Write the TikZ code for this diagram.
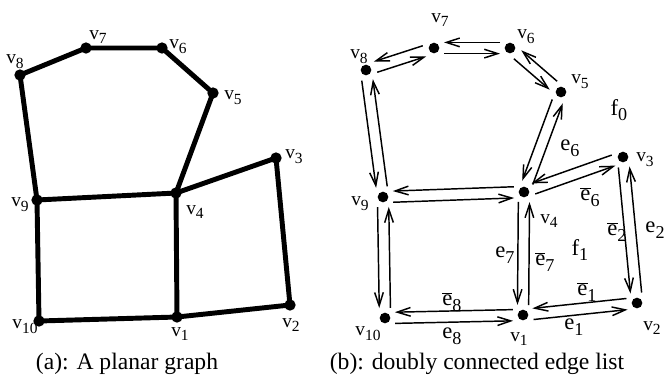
\documentclass[tikz,border=0pt]{standalone}
\usepackage{fontspec}
\setmainfont{Liberation Serif}
\usetikzlibrary{arrows.meta,calc}

\tikzset{every picture/.style={line width=0.75pt}}
\tikzset{
  bigdot/.style={circle,fill=black,inner sep=0pt,minimum size=8.5pt},
  smalldot/.style={circle,fill=black,inner sep=0pt,minimum size=8pt},
  thickedge/.style={line width=3.7pt,line join=round,line cap=round},
  half/.style={line width=1.1pt,-{Straight Barb[length=10pt,width=6.5pt]}},
  vlab/.style={inner sep=0pt,font=\fontsize{14.5}{17}\selectfont},
  elab/.style={inner sep=0pt,font=\fontsize{17}{20}\selectfont},
  caption/.style={inner sep=0pt,font=\fontsize{17.7}{21}\selectfont}
}
\newcommand{\subx}[1]{\raisebox{-0.55ex}{\scalebox{0.8}{#1}}}
\newcommand{\vname}[1]{v\subx{#1}}
\newcommand{\ename}[1]{e\subx{#1}}
\newcommand{\ebar}[1]{$\overline{\mathrm{e}}$\subx{#1}}
\newcommand{\fname}[1]{f\subx{#1}}

\begin{document}
\begin{tikzpicture}[x=0.75pt,y=0.75pt,yscale=-1,xscale=1]
      \useasboundingbox (0,0) rectangle (665,380);

      %Shape: vertices of the planar graph
      \node [bigdot] (a1) at (177,317) {};
      \node [bigdot] (a2) at (290,305) {};
      \node [bigdot] (a3) at (276,158) {};
      \node [bigdot] (a4) at (176,193) {};
      \node [bigdot] (a5) at (213,93) {};
      \node [bigdot] (a6) at (162,48) {};
      \node [bigdot] (a7) at (86,48) {};
      \node [bigdot] (a8) at (20,75) {};
      \node [bigdot] (a9) at (37,200) {};
      \node [bigdot] (a10) at (39,321) {};

      %Straight Lines: edges of the planar graph
      \draw [thickedge] (a8.center) -- (a7.center) -- (a6.center) -- (a5.center) -- (a4.center) -- (a3.center) -- (a2.center) -- (a1.center) -- (a10.center) -- (a9.center) -- cycle ;
      \draw [thickedge] (a9.center) -- (a4.center) -- (a1.center) ;

      % Text Node
      \node [vlab] (la1) at (180,334) {\vname{1}};
      \node [vlab] (la2) at (291,325) {\vname{2}};
      \node [vlab] (la3) at (294,157) {\vname{3}};
      \node [vlab] (la4) at (195,212) {\vname{4}};
      \node [vlab] (la5) at (233,98) {\vname{5}};
      \node [vlab] (la6) at (178,47) {\vname{6}};
      \node [vlab] (la7) at (98,37) {\vname{7}};
      \node [vlab] (la8) at (15,62) {\vname{8}};
      \node [vlab] (la9) at (20,205) {\vname{9}};
      \node [vlab] (la10) at (25,327) {\vname{10}};
      \node [caption] (capa) at (127,364) {(a): A planar graph};

      %Shape: vertices of the edge list
      \node [smalldot] (b1) at (523,315) {};
      \node [smalldot] (b2) at (637,303) {};
      \node [smalldot] (b3) at (623,157) {};
      \node [smalldot] (b4) at (524,192) {};
      \node [smalldot] (b5) at (561,92) {};
      \node [smalldot] (b6) at (510,48) {};
      \node [smalldot] (b7) at (434,48) {};
      \node [smalldot] (b8) at (366,70) {};
      \node [smalldot] (b9) at (383,197) {};
      \node [smalldot] (b10) at (385,318) {};

      %Straight Lines: two half edges for every edge
      \foreach \s/\t in {b8/b7,b7/b6,b6/b5,b5/b4,b4/b3,b3/b2,b2/b1,b1/b10,b10/b9,b9/b8,b9/b4,b4/b1}{
        \draw [half] ($(\s)!7.5pt!(\t)!4.2pt!90:(\t)$) -- ($(\t)!7.5pt!(\s)!4.2pt!-90:(\s)$) ;
        \draw [half] ($(\t)!7.5pt!(\s)!4.2pt!90:(\s)$) -- ($(\s)!7.5pt!(\t)!4.2pt!-90:(\t)$) ;
      }

      % Text Node
      \node [vlab] (lb1) at (519,339) {\vname{1}};
      \node [vlab] (lb2) at (652,328) {\vname{2}};
      \node [vlab] (lb3) at (645,160) {\vname{3}};
      \node [vlab] (lb4) at (549,221) {\vname{4}};
      \node [vlab] (lb5) at (580,82) {\vname{5}};
      \node [vlab] (lb6) at (526,37) {\vname{6}};
      \node [vlab] (lb7) at (440,20) {\vname{7}};
      \node [vlab] (lb8) at (359,57) {\vname{8}};
      \node [vlab] (lb9) at (360,204) {\vname{9}};
      \node [vlab] (lb10) at (368,334) {\vname{10}};
      % Text Node
      \node [elab] (f0) at (619,110) {\fname{0}};
      \node [elab] (f1) at (580,250) {\fname{1}};
      \node [elab] (e6) at (570,148) {\ename{6}};
      \node [elab] (eb6) at (590,197) {\ebar{6}};
      \node [elab] (e7) at (505,255) {\ename{7}};
      \node [elab] (eb7) at (545,262) {\ebar{7}};
      \node [elab] (eb2) at (617,232) {\ebar{2}};
      \node [elab] (e2) at (655,230) {\ename{2}};
      \node [elab] (eb1) at (587,292) {\ebar{1}};
      \node [elab] (e1) at (574,327) {\ename{1}};
      \node [elab] (eb8) at (452,302) {\ebar{8}};
      \node [elab] (e8) at (452,336) {\ename{8}};
      \node [caption] (capb) at (477,364) {(b): doubly connected edge list};
\end{tikzpicture}
\end{document}
